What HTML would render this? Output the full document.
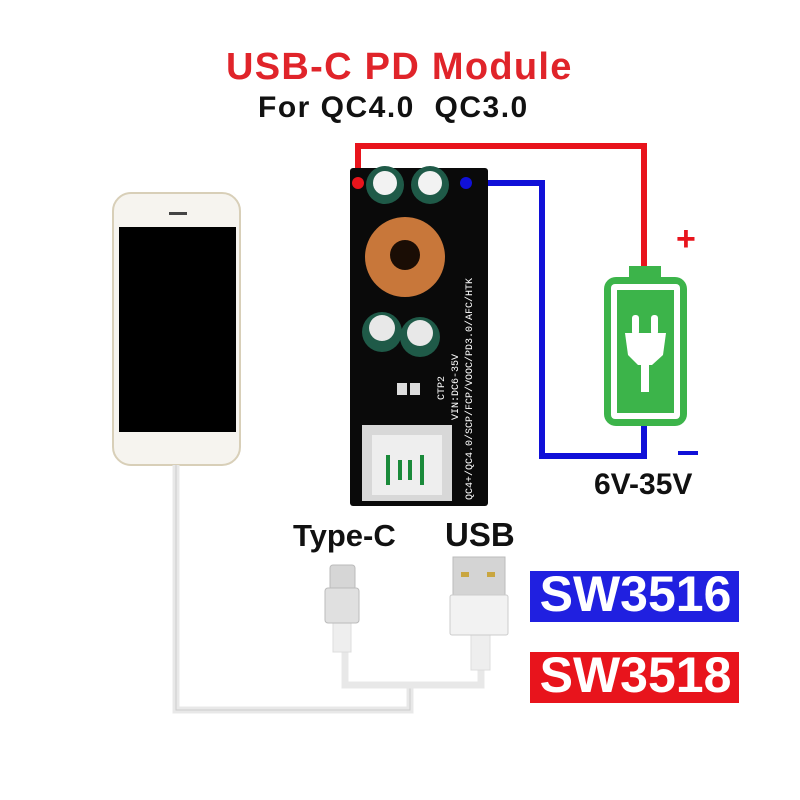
<!DOCTYPE html>
<html><head><meta charset="utf-8"><style>
body{margin:0;width:800px;height:800px;background:#fff;overflow:hidden;position:relative;font-family:"Liberation Sans",sans-serif}
.t{position:absolute;font-weight:bold;white-space:nowrap}
</style></head><body>
<div class="t" style="left:226px;top:46px;font-size:38px;color:#e0242a;letter-spacing:1.3px">USB-C PD Module</div>
<div class="t" style="left:258px;top:91px;font-size:30px;color:#111;letter-spacing:1.5px">For QC4.0&nbsp;&nbsp;QC3.0</div>

<svg width="800" height="800" style="position:absolute;left:0;top:0">
<polyline points="358,183 358,146 644,146 644,268" fill="none" stroke="#e8141c" stroke-width="6"/>
<polyline points="466,183 542,183 542,456 644,456 644,426" fill="none" stroke="#1010d8" stroke-width="6"/>
<rect x="629" y="266" width="32" height="14" fill="#3cb44a"/>
<rect x="604" y="277" width="83" height="149" rx="12" fill="#3cb44a"/>
<rect x="611" y="284" width="69" height="135" rx="4" fill="#fff"/>
<rect x="617" y="290" width="57" height="123" fill="#3cb44a"/>
<rect x="632" y="315" width="7" height="20" rx="3" fill="#fff"/>
<rect x="651" y="315" width="7" height="20" rx="3" fill="#fff"/>
<path d="M625 333 H666 L663 355 L652 365 H638 L628 355 Z" fill="#fff"/>
<rect x="641" y="360" width="8" height="32" fill="#fff"/>
<text x="676" y="250" font-size="34" fill="#e8141c" font-family="Liberation Sans" font-weight="bold">+</text>
<rect x="678" y="451" width="20" height="4" fill="#1010d8"/>
<rect x="350" y="168" width="138" height="338" rx="3" fill="#0a0a0a"/>
<circle cx="358" cy="183" r="6" fill="#e8141c"/>
<circle cx="466" cy="183" r="6" fill="#1010d8"/>
<circle cx="385" cy="185" r="19" fill="#1f5a48"/><circle cx="385" cy="183" r="12" fill="#f2f2f2"/>
<circle cx="430" cy="185" r="19" fill="#1f5a48"/><circle cx="430" cy="183" r="12" fill="#f2f2f2"/>
<circle cx="405" cy="257" r="40" fill="#c8773a"/><circle cx="405" cy="255" r="15" fill="#1a0d05"/>
<circle cx="382" cy="332" r="20" fill="#1f5a48"/><circle cx="382" cy="328" r="13" fill="#e8e8e8"/>
<circle cx="420" cy="337" r="20" fill="#1f5a48"/><circle cx="420" cy="333" r="13" fill="#e8e8e8"/>
<rect x="397" y="383" width="10" height="12" fill="#ddd"/><rect x="410" y="383" width="10" height="12" fill="#ddd"/>
<rect x="362" y="425" width="90" height="76" fill="#d8d8d8"/>
<rect x="372" y="435" width="70" height="60" fill="#eee"/>
<path d="M388 485 V455 M400 480 V460 M410 460 V480 M422 455 V485" stroke="#1a8a3a" stroke-width="4" fill="none"/>
<text transform="translate(472,500) rotate(-90)" font-size="10" fill="#fff" font-family="Liberation Mono">QC4+/QC4.0/SCP/FCP/VOOC/PD3.0/AFC/HTK</text>
<text transform="translate(458,420) rotate(-90)" font-size="10" fill="#fff" font-family="Liberation Mono">VIN:DC6-35V</text>
<text transform="translate(444,400) rotate(-90)" font-size="10" fill="#fff" font-family="Liberation Mono">CTP2</text>
<rect x="113" y="193" width="127" height="272" rx="18" fill="#f6f4ef" stroke="#d8cfb8" stroke-width="2"/>
<rect x="119" y="227" width="117" height="205" fill="#000"/>
<rect x="169" y="212" width="18" height="3" fill="#444"/>
<polyline points="176,465 176,710 410,710 410,686" fill="none" stroke="#e8e8e8" stroke-width="7"/>
<polyline points="176,465 176,710 410,710 410,686" fill="none" stroke="#ccc" stroke-width="1"/>
<polyline points="345,622 345,685 481,685 481,635" fill="none" stroke="#e8e8e8" stroke-width="7"/>
<rect x="333" y="622" width="18" height="30" fill="#eee" stroke="#ddd"/>
<rect x="471" y="635" width="19" height="35" fill="#eee" stroke="#ddd"/>
<rect x="330" y="565" width="25" height="25" rx="3" fill="#d6d6d6" stroke="#bbb"/>
<rect x="325" y="588" width="34" height="35" rx="3" fill="#e0e0e0" stroke="#bbb"/>
<rect x="453" y="557" width="52" height="40" fill="#d4d4d4" stroke="#bbb"/>
<rect x="461" y="572" width="8" height="5" fill="#c9a640"/><rect x="487" y="572" width="8" height="5" fill="#c9a640"/>
<rect x="450" y="595" width="58" height="40" rx="2" fill="#f2f2f2" stroke="#ccc"/>
</svg>

<div class="t" style="left:594px;top:468px;font-size:30px;color:#111">6V-35V</div>
<div class="t" style="left:293px;top:518px;font-size:31px;color:#111">Type-C</div>
<div class="t" style="left:445px;top:516px;font-size:33px;color:#111">USB</div>
<div style="position:absolute;left:530px;top:571px;width:209px;height:51px;background:#2020e0"></div>
<div class="t" style="left:533px;top:565px;font-size:50px;color:#fff;width:205px;text-align:center">SW3516</div>
<div style="position:absolute;left:530px;top:652px;width:209px;height:51px;background:#e8141c"></div>
<div class="t" style="left:533px;top:646px;font-size:50px;color:#fff;width:205px;text-align:center">SW3518</div>
</body></html>
